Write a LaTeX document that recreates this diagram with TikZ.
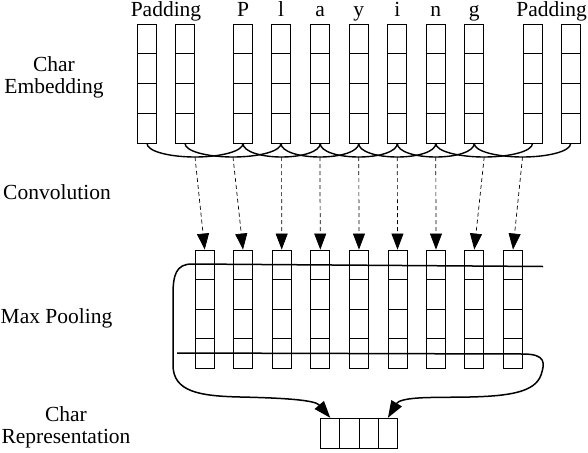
\documentclass[tikz,border=0pt]{standalone}
\usepackage{fontspec}
\setmainfont{Liberation Serif}
\usetikzlibrary{arrows.meta,calc}

\tikzset{
  vec/.style={draw, line width=0.9pt, minimum width=19pt, inner sep=0pt,
    path picture={
      \foreach \f in {0.25,0.5,0.75}
        \draw[line width=0.9pt] ($(path picture bounding box.north west)!\f!(path picture bounding box.south west)$) -- ($(path picture bounding box.north east)!\f!(path picture bounding box.south east)$);
    }},
  embvec/.style={vec, minimum height=119pt},
  convvec/.style={vec, minimum height=118pt},
  repcell/.style={draw, line width=0.9pt, minimum width=19.2pt, minimum height=30pt, inner sep=0pt},
  lbl/.style={inner sep=0pt, align=center, font=\fontsize{21.5pt}{21.6pt}\selectfont},
  brace/.style={line width=1.4pt},
  conv/.style={line width=0.7pt, dash pattern=on 4pt off 3pt, -{Triangle[length=16pt,width=12pt]}},
  pool/.style={line width=1.5pt, -{Triangle[length=17pt,width=12pt]}},
}

\begin{document}
\begin{tikzpicture}[x=1pt, y=-1pt]
\useasboundingbox (0,0) rectangle (588,452);
% Nodes
\node[embvec] (e1) at (147,83.5) {};
\node[embvec] (e2) at (185,83.5) {};
\node[embvec] (e3) at (243,83.5) {};
\node[embvec] (e4) at (281,83.5) {};
\node[embvec] (e5) at (320.2,83.5) {};
\node[embvec] (e6) at (358.7,83.5) {};
\node[embvec] (e7) at (397.3,83.5) {};
\node[embvec] (e8) at (435.8,83.5) {};
\node[embvec] (e9) at (474.2,83.5) {};
\node[embvec] (e10) at (532.5,83.5) {};
\node[embvec] (e11) at (570.7,83.5) {};
\node[convvec] (c1) at (204.7,309) {};
\node[convvec] (c2) at (243,309) {};
\node[convvec] (c3) at (281.7,309) {};
\node[convvec] (c4) at (320.3,309) {};
\node[convvec] (c5) at (359,309) {};
\node[convvec] (c6) at (397.5,309) {};
\node[convvec] (c7) at (436,309) {};
\node[convvec] (c8) at (474.3,309) {};
\node[convvec] (c9) at (513,309) {};
\node[repcell] (r1) at (330.3,433.3) {};
\node[repcell] (r2) at (349.5,433.3) {};
\node[repcell] (r3) at (368.7,433.3) {};
\node[repcell] (r4) at (387.9,433.3) {};
% Labels
\node[lbl, anchor=base] (tpadl) at (166,16.7) {Padding};
\node[lbl, anchor=base] (tp) at (243,16.7) {P};
\node[lbl, anchor=base] (tl) at (281,16.7) {l};
\node[lbl, anchor=base] (ta) at (320.2,16.7) {a};
\node[lbl, anchor=base] (ty) at (358.7,16.7) {y};
\node[lbl, anchor=base] (ti) at (397.3,16.7) {i};
\node[lbl, anchor=base] (tn) at (435.8,16.7) {n};
\node[lbl, anchor=base] (tg) at (474.2,16.7) {g};
\node[lbl, anchor=base] (tpadr) at (551.7,16.7) {Padding};
\node[lbl] (lemb) at (54,77.5) {Char\\Embedding};
\node[lbl, anchor=base] (lconv) at (57,199.5) {Convolution};
\node[lbl, anchor=base] (lpool) at (56.5,323.5) {Max Pooling};
\node[lbl] (lrep) at (66,427.5) {Char\\Representation};
% Brace centres and pooling line ends
\coordinate (b1) at (195,157);
\coordinate (b2) at (233,157);
\coordinate (b3) at (281.6,157);
\coordinate (b4) at (319.9,157);
\coordinate (b5) at (358.8,157);
\coordinate (b6) at (397.3,157);
\coordinate (b7) at (435.8,157);
\coordinate (b8) at (484.2,157);
\coordinate (b9) at (522.5,157);
\coordinate (ptr) at (543,266.5);
\coordinate (ptl) at (192,264);
\coordinate (pbl) at (177,353);
\coordinate (pbr) at (523,354);
% Edges
\draw[brace] (e1.south) .. controls +(0,8) and +(-25,0) .. (b1) .. controls +(25,0) and +(0,8) .. (e3.south);
\draw[brace] (e2.south) .. controls +(0,8) and +(-25,0) .. (b2) .. controls +(25,0) and +(0,8) .. (e4.south);
\draw[brace] (e3.south) .. controls +(0,8) and +(-21,0) .. (b3) .. controls +(21,0) and +(0,8) .. (e5.south);
\draw[brace] (e4.south) .. controls +(0,8) and +(-21,0) .. (b4) .. controls +(21,0) and +(0,8) .. (e6.south);
\draw[brace] (e5.south) .. controls +(0,8) and +(-21,0) .. (b5) .. controls +(21,0) and +(0,8) .. (e7.south);
\draw[brace] (e6.south) .. controls +(0,8) and +(-21,0) .. (b6) .. controls +(21,0) and +(0,8) .. (e8.south);
\draw[brace] (e7.south) .. controls +(0,8) and +(-21,0) .. (b7) .. controls +(21,0) and +(0,8) .. (e9.south);
\draw[brace] (e8.south) .. controls +(0,8) and +(-25,0) .. (b8) .. controls +(25,0) and +(0,8) .. (e10.south);
\draw[brace] (e9.south) .. controls +(0,8) and +(-25,0) .. (b9) .. controls +(25,0) and +(0,8) .. (e11.south);
\draw[conv] (b1) -- (c1.north);
\draw[conv] (b2) -- (c2.north);
\draw[conv] (b3) -- (c3.north);
\draw[conv] (b4) -- (c4.north);
\draw[conv] (b5) -- (c5.north);
\draw[conv] (b6) -- (c6.north);
\draw[conv] (b7) -- (c7.north);
\draw[conv] (b8) -- (c8.north);
\draw[conv] (b9) -- (c9.north);
\draw[pool] (ptr) -- (ptl) .. controls (176,264) and (173,275) .. (173,295) -- (173,365)
  .. controls (173,392) and (200,396) .. (240,397) .. controls (285,398) and (315,400) .. (r1.north);
\draw[pool] (pbl) -- (pbr) .. controls (546,354) and (545,363) .. (541,375)
  .. controls (535,392) and (510,396) .. (470,397) -- (430,397.5) .. controls (405,398) and (398,401) .. (r4.north);
\end{tikzpicture}
\end{document}
